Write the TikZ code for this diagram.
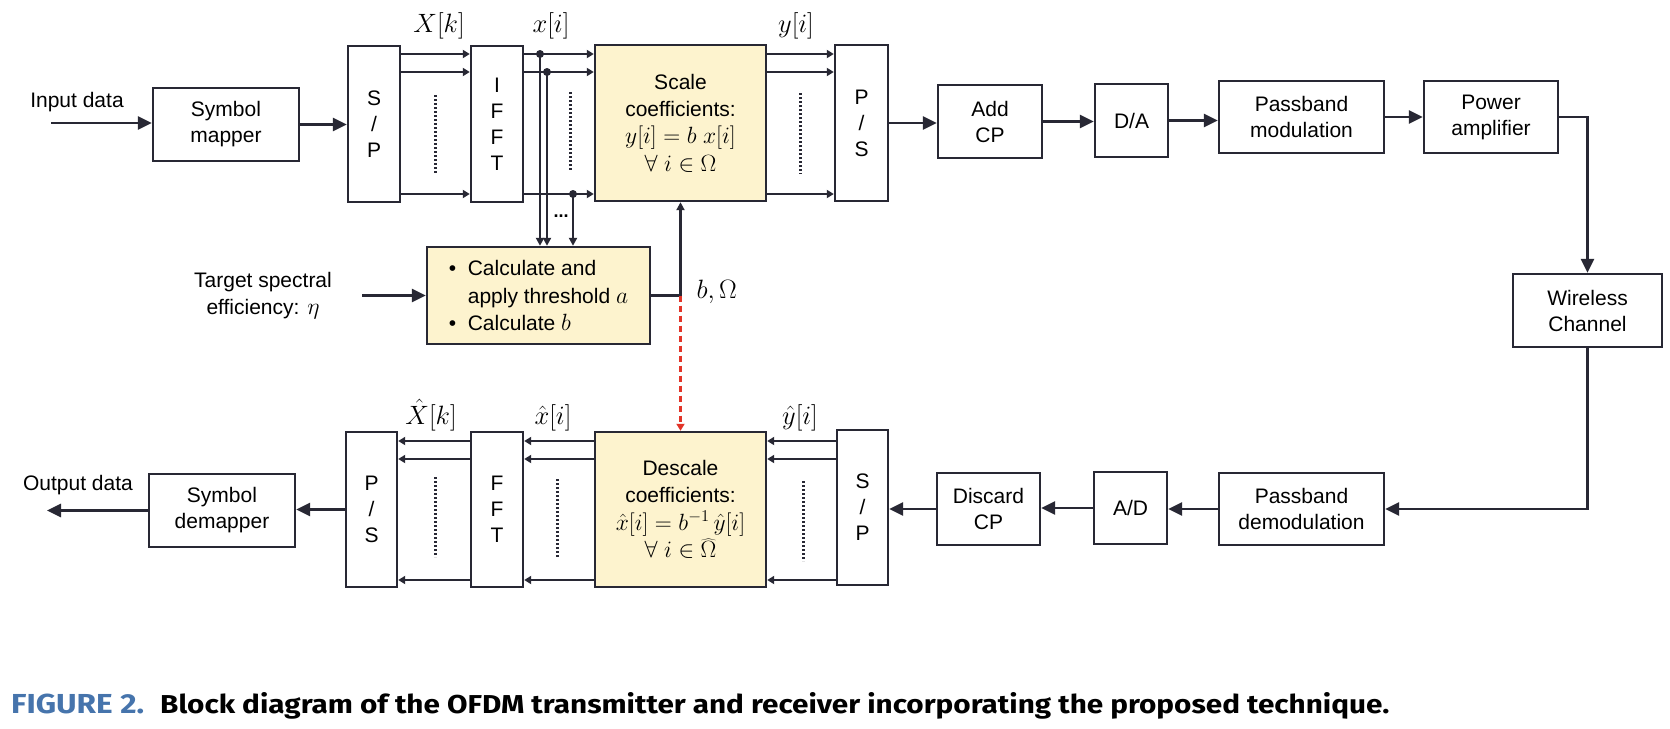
\RequirePackage{fix-cm}
\documentclass[tikz,border=0pt]{standalone}
\usepackage{graphicx}
\usepackage{fontspec}
\setmainfont{Liberation Sans}
\newfontfamily\capfont{Fira Sans}
\usetikzlibrary{arrows.meta,calc}
\definecolor{ln}{RGB}{40,40,52}
\definecolor{boxfill}{RGB}{253,243,206}
\definecolor{capblue}{RGB}{70,116,172}
\definecolor{dashred}{RGB}{226,52,40}
\newcommand{\bm}[1]{{\fontsize{23.5}{27}\selectfont$#1$}}
\begin{document}
\begin{tikzpicture}[x=1pt,y=-1pt,
  font=\fontsize{21}{26}\selectfont,
  box/.style={draw=ln, line width=2.4pt, inner sep=0pt, align=center, fill=white},
  ybox/.style={box, fill=boxfill},
  mainarr/.style={draw=ln, line width=2.8pt, -{Triangle[length=14pt,width=13pt]}},
  pararr/.style={draw=ln, line width=2pt, -{Triangle[length=7pt,width=8pt]}},
  vertarr/.style={draw=ln, line width=2.6pt, -{Triangle[length=8pt,width=8pt]}},
  dotline/.style={draw=ln, line width=3pt, dash pattern=on 2.4pt off 1.6pt},
  mlabel/.style={font=\fontsize{26.5}{30}\selectfont, anchor=base},
  plain/.style={anchor=base, align=center},
]
\useasboundingbox (0,0) rectangle (1670,728);
\fill[white] (0,0) rectangle (1670,728);

% ---------------- transmitter ----------------
\node[plain] (inlab) at (77,107) {Input data};
\node[box, minimum width=146pt, minimum height=73pt] (mapper) at (226,124.5) {Symbol\\mapper};
\node[box, minimum width=52pt, minimum height=156pt] (SP1) at (374,124) {S\\/\\P};
\node[box, minimum width=52pt, minimum height=156pt] (IFFT) at (497,124) {I\\F\\F\\T};
\node[ybox, minimum width=171pt, minimum height=156pt, font=\fontsize{21}{27.3}\selectfont] (Scale) at (680.5,123)
  {Scale\\coefficients:\\\bm{y[i]=b\;x[i]}\\\bm{\forall\;i\in\Omega}};
\node[box, minimum width=53pt, minimum height=156pt] (PS1) at (861.5,123) {P\\/\\S};
\node[box, minimum width=104pt, minimum height=73pt] (AddCP) at (990,121.5) {Add\\CP};
\node[box, minimum width=73pt, minimum height=73pt] (DA) at (1131.5,120.5) {D/A};
\node[box, minimum width=165pt, minimum height=72pt] (PBmod) at (1301.5,117) {Passband\\modulation};
\node[box, minimum width=134pt, minimum height=72pt] (PA) at (1491,117) {Power\\amplifier};
\node[box, minimum width=149pt, minimum height=73pt] (Wireless) at (1587.5,310.5) {Wireless\\Channel};

\node[ybox, minimum width=223pt, minimum height=97pt, align=left, font=\fontsize{21}{27.5}\selectfont] (Calc) at (538.5,295.5)
  {\textbullet\ \ Calculate and\\\phantom{\textbullet\ \ }apply threshold \bm{a}\\\textbullet\ \ Calculate \bm{b}};
\node[align=center, font=\fontsize{21}{27}\selectfont] (target) at (263,296) {Target spectral\\efficiency: \bm{\eta}};

\node[mlabel] (Xk) at (439,32) {$X[k]$};
\node[mlabel] (xi) at (551,32) {$x[i]$};
\node[mlabel] (yi) at (796,32) {$y[i]$};
\node[mlabel, anchor=base west] (bO) at (693,298) {$b,\Omega$};

\coordinate (inS) at (51,123);
\draw[mainarr] (inS) -- (inS -| mapper.west);
\draw[mainarr] (mapper.east) -- (SP1.west |- mapper.east);

\foreach \yy in {54,72,194}{
  \coordinate (r) at (0,\yy);
  \draw[pararr] (SP1.east |- r) -- (IFFT.west |- r);
  \draw[pararr] (IFFT.east |- r) -- (Scale.west |- r);
  \draw[pararr] (Scale.east |- r) -- (PS1.west |- r);
}
\draw[dotline] (435,95) -- (435,174);
\draw[dotline] (570,92) -- (570,171);
\draw[dotline] (800,93) -- (800,174);

\coordinate (d1) at (540,54);
\coordinate (d2) at (547,72);
\coordinate (d3) at (573,194);
\draw[vertarr] (d1) -- (d1 |- Calc.north);
\draw[vertarr] (d2) -- (d2 |- Calc.north);
\draw[vertarr] (d3) -- (d3 |- Calc.north);
\fill[ln] (d1) circle (4pt) (d2) circle (4pt) (d3) circle (4pt);
\node[font=\bfseries\fontsize{18}{20}\selectfont] (ell) at (561,216) {...};

\draw[mainarr] (PS1.east) -- (AddCP.west |- PS1.east);
\draw[mainarr] (AddCP.east) -- (DA.west |- AddCP.east);
\draw[mainarr] (DA.east) -- (PBmod.west |- DA.east);
\draw[mainarr] (PBmod.east) -- (PA.west |- PBmod.east);
\draw[mainarr] (PA.east) -| (Wireless.north);

\coordinate (tin) at (362,295.5);
\draw[mainarr] (tin) -- (Calc.west);
\coordinate (bj) at (Calc.east -| Scale.south);
\draw[vertarr] (Calc.east) -- (bj) -- (Scale.south);

% ---------------- receiver ----------------
\node[plain] (outlab) at (78,490) {Output data};
\node[box, minimum width=146pt, minimum height=73pt] (demapper) at (222,510.5) {Symbol\\demapper};
\node[box, minimum width=51pt, minimum height=155pt] (PS2) at (371.5,509.5) {P\\/\\S};
\node[box, minimum width=52pt, minimum height=155pt] (FFT) at (497,509.5) {F\\F\\T};
\node[ybox, minimum width=171pt, minimum height=155pt, font=\fontsize{21}{27.5}\selectfont] (Descale) at (680.5,509.5)
  {Descale\\coefficients:\\\bm{\hat{x}[i]=b^{-1}\,\hat{y}[i]}\\\bm{\forall\;i\in\widehat{\Omega}}};
\node[box, minimum width=51pt, minimum height=155pt] (SP2) at (862.5,507.5) {S\\/\\P};
\node[box, minimum width=103pt, minimum height=72pt] (Discard) at (988.5,509) {Discard\\CP};
\node[box, minimum width=73pt, minimum height=72pt] (AD) at (1130.5,508) {A/D};
\node[box, minimum width=165pt, minimum height=72pt] (PBdemod) at (1301.5,509) {Passband\\demodulation};

\node[mlabel] (Xhk) at (431,424) {$\hat{X}[k]$};
\node[mlabel] (xhi) at (553,424) {$\hat{x}[i]$};
\node[mlabel] (yhi) at (800,424) {$\hat{y}[i]$};

\draw[mainarr] (Wireless.south) |- (PBdemod.east);
\draw[mainarr] (PBdemod.west) -- (AD.east |- PBdemod.west);
\draw[mainarr] (AD.west) -- (Discard.east |- AD.west);
\draw[mainarr] (Discard.west) -- (SP2.east |- Discard.west);
\draw[mainarr] (PS2.west) -- (demapper.east |- PS2.west);
\coordinate (outE) at (47,510);
\draw[mainarr] (demapper.west) -- (outE |- demapper.west);

\foreach \yy in {441,459,580}{
  \coordinate (r) at (0,\yy);
  \draw[pararr] (SP2.west |- r) -- (Descale.east |- r);
  \draw[pararr] (Descale.west |- r) -- (FFT.east |- r);
  \draw[pararr] (FFT.west |- r) -- (PS2.east |- r);
}
\draw[dotline] (435,477) -- (435,557);
\draw[dotline] (557,479) -- (557,558);
\draw[dotline] (803,481) -- (803,561);

\draw[dashred, line width=2.4pt, dash pattern=on 6pt off 4pt, -{Triangle[length=7pt,width=8pt]}] (bj) -- (Descale.north);

% ---------------- caption ----------------
\node[anchor=base west, inner sep=0pt, text=capblue, font=\capfont\bfseries] (figno) at (11,713) {\resizebox{133pt}{19.5pt}{FIGURE 2.}};
\node[anchor=base west, inner sep=0pt, font=\capfont\bfseries] (captext) at (160,713) {\resizebox{1229pt}{21pt}{Block diagram of the OFDM transmitter and receiver incorporating the proposed technique.}};
\end{tikzpicture}
\end{document}
